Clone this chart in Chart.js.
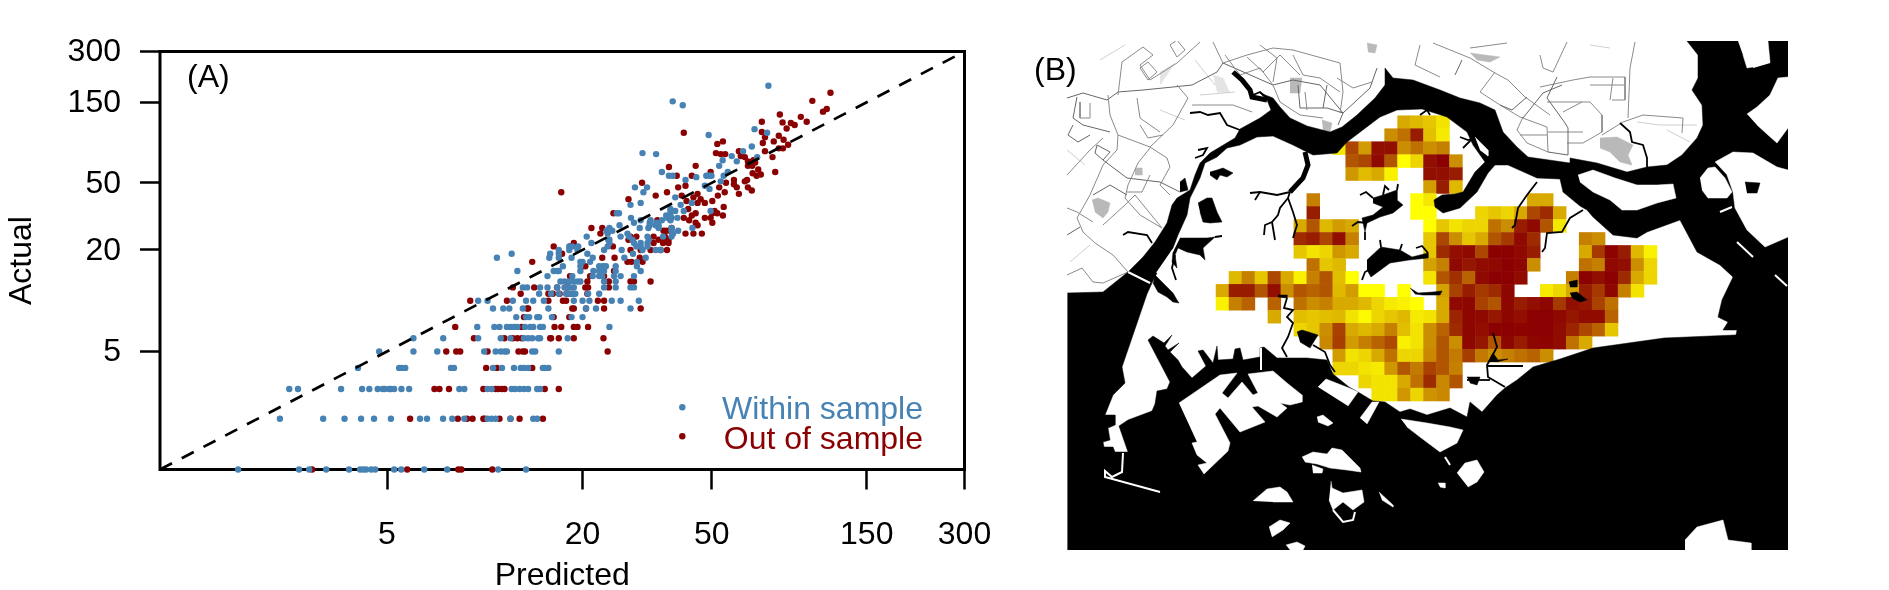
<!DOCTYPE html>
<html><head><meta charset="utf-8">
<style>html,body{margin:0;padding:0;background:#fff;width:1889px;height:590px;overflow:hidden}
canvas{position:absolute;top:0}#a{left:0}#b{left:1000px}</style>
<script src="https://cdn.jsdelivr.net/npm/chart.js@4/dist/chart.umd.js"></script>
</head><body>
<div style="position:absolute;left:0;top:0;width:1000px;height:590px"><canvas id="a" width="1000" height="590"></canvas></div>
<div style="position:absolute;left:1000px;top:0;width:889px;height:590px"><canvas id="b" width="889" height="590" style="left:0"></canvas></div>
<script>
const FONT='"Liberation Sans", Arial, sans-serif';
const tickValues=[5,20,50,150,300];
const seriesNames=['Within sample','Out of sample'];
// [actual, [predicted...]]
const withinSample=[
[1,[1.74,2.68,2.88,3.25,3.82,4.13,4.22,4.31,4.47,4.60,5.26,5.53,6.51,7.66,11.0,13.4]],
[2,[2.34,3.18,3.70,4.16,4.56,5.14,6.32,6.64,7.44,7.94,8.65,10.2,10.5,10.8,12.0,14.1,14.5]],
[3,[2.50,2.66,3.61,4.19,4.41,4.68,4.85,4.92,5.08,5.14,5.26,5.54,5.85,8.35,8.65,10.2,10.5,12.1,12.4,12.8,13.2,13.6,14.5,14.8]],
[4,[4.07,5.45,5.54,5.69,7.87,8.04,10.6,11.3,12.3,12.9,13.2,13.6,15.1,15.3,15.7]],
[5,[4.73,6.03,7.14,9.96,10.8,11.2,11.5,11.7,14.0,14.3,16.9]],
[6,[6.03,7.45,9.54,11.2,12.0,13.2,13.6,14.0,14.6,14.8,18.0]],
[7,[9.48,10.7,11.1,11.7,12.0,12.3,12.6,13.3,13.8,14.1,14.8,15.1,24.2]],
[8,[12.5,13.4,13.7,14.5,14.7,16.1,18.5,20.0]],
[9,[10.6,11.4,11.9,13.1,15.7,20.5,22.0,28.1]],
[10,[9.54,10.2,12.2,13.4,14.1,15.2,18.8,20.0,21.0,24.6,26.2,29.8]],
[11,[14.7,16.0,16.9,17.8,18.2,18.6,19.0,20.8,22.5]],
[12,[13.1,13.5,14.8,15.6,16.7,17.6,18.2,18.8,23.3,25.3,28.1,28.8]],
[13,[17.1,17.6,18.2,18.8,19.3,19.7,23.3,25.3]],
[14,[15.6,18.6,21.5,22.5,23.0,25.0,26.2,28.8]],
[15,[12.6,16.3,16.7,16.9,19.7,21.6,22.5,23.3,25.3,30.2]],
[16,[17.4,19.7,22.5,23.1,23.6,25.3,29.4]],
[17,[19.7,20.0,21.1,29.4]],
[18,[10.9,15.8,16.9,18.5,21.5,26.9,31.3]],
[19,[12.1,15.9,16.9,20.7,28.6]],
[20,[16.9,18.2,19.3,23.3,26.4,30.6,33.6,34.8]],
[21,[18.2,18.6,19.4,23.9,29.3,30.2,31.7]],
[22,[21.3,24.2,28.8,30.2,31.7]],
[23,[24.0,24.2,28.5,32.0]],
[24,[20.6,26.2,27.8,31.7,35.4,37.6]],
[25,[23.9,27.5,38.0]],
[26,[23.7,24.7,37.6,39.4]],
[27,[24.2,30.0,31.9,34.3,37.6,43.6]],
[28,[26.0,32.2,33.6,34.3]],
[29,[28.8,32.2,33.8]],
[30,[30.2,32.4,35.1,37.3]],
[31,[28.2,36.5,37.6,39.2]],
[32,[36.2,37.3]],
[33,[25.5,25.9]],
[34,[37.3,38.6,41.0,49.6]],
[35,[37.3]],
[37,[28.1,40.1]],
[38,[30.2,43.4]],
[41,[38.6]],
[44,[30.8]],
[46,[49.2]],
[47,[29.0,31.6]],
[48,[47.6]],
[51,[53.3]],
[52,[41.5]],
[54,[44.8]],
[55,[36.9,37.9,48.1,49.2,49.9,54.4]],
[58,[35.1,56.0]],
[63,[52.7]],
[67,[59.7]],
[68,[54.0]],
[71,[69.0]],
[72,[57.6]],
[74,[33.7]],
[75,[30.6]],
[77,[62.4]],
[82,[66.4]],
[96,[48.9]],
[99,[74.0]],
[104,[67.7]],
[144,[40.7]],
[152,[37.9]],
[188,[74.7]]
];
const outOfSample=[
[1,[2.94,5.77,8.29,8.47,10.55]],
[2,[5.89,8.26,8.82,9.17,9.90,10.0,11.1,12.0,12.8,15.1]],
[3,[7.00,7.25,7.76,9.90,10.8,11.0,11.3,11.5,15.3,16.9]],
[4,[10.1,10.9,14.0]],
[5,[7.61,8.17,8.40,10.2,12.7,13.1,13.3,23.9]],
[6,[9.26,11.5,12.2,12.6,13.0,15.9,16.0,16.9,18.8,23.2]],
[7,[8.11,13.0,16.4,17.2,18.8,19.3,20.8]],
[8,[13.2,16.3,18.2]],
[9,[13.5,13.6,18.6,18.8,20.5,23.3,30.2]],
[10,[9.02,11.7,15.7,17.4,17.8,22.3,23.3]],
[11,[12.9,15.7,16.2,17.0,18.0,18.6,20.7]],
[12,[12.2,14.2,16.7,17.8,20.4,20.8,24.1]],
[13,[18.2,20.7,24.1,28.1,28.8,32.4]],
[14,[18.3,21.1,23.3]],
[15,[25.0]],
[16,[20.0,20.4]],
[17,[14.0,27.5,28.3,30.6]],
[18,[23.0,25.1,30.0]],
[19,[17.3]],
[20,[28.1,30.2,32.4,34.8,36.4]],
[21,[16.3,18.3,24.8]],
[22,[18.8,33.1,35.4,36.8]],
[23,[27.7,34.3,35.5,36.8]],
[24,[28.1,29.3,33.1,35.9]],
[25,[22.7,41.5,43.9,46.6]],
[26,[35.5,36.2,37.3]],
[27,[21.3,23.0,37.6]],
[28,[45.2]],
[29,[44.6,50.2]],
[30,[34.0,42.6]],
[31,[41.0,47.6,49.6]],
[32,[43.4,54.1]],
[33,[24.9,44.6,50.2,52.0]],
[34,[51.0]],
[35,[42.3]],
[36,[54.4]],
[38,[45.2,47.6]],
[39,[41.8,50.2]],
[40,[27.7,46.2]],
[41,[43.9]],
[42,[33.6,40.4,52.2]],
[43,[45.2,60.6]],
[44,[17.2,36.4,54.8]],
[45,[66.4]],
[47,[39.4,52.7,59.7,64.6]],
[48,[41.5]],
[49,[58.5]],
[50,[30.5,55.3]],
[51,[63.2]],
[52,[58.5,64.2]],
[55,[39.0,43.4,68.7]],
[56,[70.8]],
[57,[66.8]],
[58,[49.6,78.4]],
[60,[69.5]],
[62,[36.9]],
[63,[44.6,64.6,66.6]],
[66,[65.9,68.0]],
[67,[64.6]],
[68,[67.2]],
[71,[63.2,76.9]],
[72,[61.4]],
[74,[53.3,55.0]],
[75,[51.5]],
[77,[60.6,72.9]],
[80,[80.4,82.8]],
[84,[85.9]],
[85,[52.0]],
[86,[71.8]],
[88,[54.1,77.6]],
[90,[83.2]],
[93,[72.9]],
[95,[80.4]],
[99,[41.0]],
[100,[71.3]],
[105,[85.0]],
[110,[90.0]],
[113,[87.6]],
[114,[82.6]],
[115,[71.3,98.0]],
[123,[94.0]],
[127,[81.0]],
[132,[110.0]],
[137,[113.0]],
[153,[102.0]],
[171,[116.0]]
];
const identityLine=[1,300];

// Panel B: intensity grid (0 = yellow, 9 = dark red), [first column, values...]
const heatRows=[
[14,3,2.5,2,1],
[13,4,5,8,2.2,0.7],
[9,0.8,6.5,3.5,8.5,8.5,4,5,4,4.5],
[10,6,6.5,8.7,6,0,1.5,8.5,9,4],
[10,3.7,2.4,3,0.5,null,null,8.5,8.5,8],
[16,3.4,8,2.5],
[7,4.5,null,null,null,null,null,null,null,0,0.8,null,null,null,null,null,null,null,3,3],
[7,8,null,null,null,null,null,null,null,0,0,null,null,null,1.5,2,1.5,3,6.5,7.5,3],
[6,3,6,2.5,3.5,3,null,null,null,null,null,0,2,1,1.5,1.5,5,4,8,8.7,6,0.8],
[6,7.5,8,6.5,8.5,4.5,null,null,null,null,null,2,6.5,4,2,3,6,7,8.7,7.5,null,null,null,4.5,4],
[6,2,1,1.5,3.7,3,null,null,null,null,null,2,7.5,8.5,8.7,6.5,9,9,8.7,8,null,null,null,3,7,8.9,8,2.5,0.5],
[7,5,2,2.5,null,null,null,null,null,null,3.3,4.5,8.7,8.2,8.6,8.7,9,8.8,4,null,null,null,5,4.5,8.7,8.5,4,1.5],
[1,2.5,4.5,2,6.5,3,0.5,4.5,6,2.3,0,null,null,null,null,null,1,6,7.3,5.5,8.7,9,9,8.6,null,null,null,4.5,9,8.5,9,7.5,3,1.5],
[0,3,8,8,6,8.5,4,6,5.5,6,2.5,3.5,0,0,null,0,null,null,3.3,6.7,8,7,7.5,8.8,null,null,0.7,1.5,3,8,7,8.8,4.5,1],
[0,0.5,4.5,5.5,null,5.5,null,5,4,4.5,3,3,2.5,1.5,0.7,0.5,0,null,3,8.7,8.8,6.7,6,8.8,8,8.5,8.8,7,8.5,8.2,6.7,5],
[4,3,null,2.3,2,2.3,2.5,1,0.2,1.5,2,2.5,0.7,1,3,7.7,8.8,8.7,8.2,8.8,8.5,9,9,8.7,8.2,8.6,8.6,5.5],
[6,1.5,2,4,6.7,3,2.5,3,4.5,2.3,1,4,5.5,7.5,8.8,8.5,9,9,8.9,9,9,8.6,7.7,6.5,5.5,2],
[8,4.2,6.8,3.5,4.6,5.5,6.4,0.5,1,4,6,4,8.8,8.2,6,8.8,8,8.8,8.9,8.6,5,3],
[9,3.5,1,1.5,3,5,1.5,1.5,4.2,6,4.7,6.8,4.7,4,4.5,5,5.5,4],
[9,1.5,1.5,1,0.7,3.7,6,4.7,6.7,6,4.5],
[11,1.5,1,1,3,5,7.5,4.2,6],
[12,1,1,3.7,1.5,3.8,4.2]
];
// Panel B: map geometry, in map units (east, south)
const mapEast=[1067,1788], mapSouth=[41,550];
const gridOrigin=[1216,115.7], gridCell=12.97;

const straitWater=[[1128,272],[1143,257],[1155,242],[1167,223],[1172,205],[1177,198],[1190,190],[1195,175],[1200,163],[1210,153],[1220,147],[1235,138],[1240,129],[1260,118],[1271,110],[1267,100],[1260,93],[1273,98],[1280,107],[1290,118],[1307,126],[1330,132],[1342,127],[1357,115],[1375,98],[1385,85],[1385,68],[1393,78],[1413,80],[1440,90],[1460,98],[1480,103],[1495,110],[1503,132],[1517,147],[1528,157],[1570,163],[1570,158],[1597,163],[1627,172],[1647,167],[1667,165],[1682,155],[1697,138],[1703,125],[1702,105],[1692,90],[1698,78],[1698,55],[1687,41],[1788,41],[1788,340],[1735,340],[1737,330],[1723,330],[1728,322],[1718,317],[1722,300],[1733,277],[1720,265],[1697,252],[1680,220],[1647,232],[1637,238],[1613,235],[1593,217],[1587,210],[1580,206],[1563,192],[1560,179],[1537,178],[1508,165],[1495,165],[1488,173],[1477,192],[1460,208],[1443,213],[1435,207],[1434,200],[1442,195],[1455,194],[1463,192],[1475,172],[1485,162],[1473,145],[1467,132],[1447,117],[1422,109],[1397,110],[1380,117],[1347,142],[1337,153],[1313,155],[1307,152],[1293,145],[1273,136],[1257,137],[1240,145],[1227,148],[1217,157],[1205,163],[1200,178],[1190,198],[1187,215],[1178,235],[1173,248],[1157,273],[1152,283]];
const southSea=[[1067,293],[1103,292],[1128,272],[1152,283],[1147,294],[1122,367],[1125,383],[1113,395],[1105,415],[1115,415],[1115,425],[1108,428],[1110,440],[1103,442],[1104,447],[1113,447],[1115,452],[1128,452],[1119,426],[1128,420],[1152,411],[1155,404],[1157,391],[1167,389],[1170,382],[1148,340],[1153,336],[1164,343],[1172,335],[1165,346],[1168,350],[1179,343],[1170,352],[1178,360],[1182,367],[1192,378],[1206,366],[1198,351],[1203,350],[1213,363],[1217,346],[1218,360],[1233,359],[1235,349],[1240,348],[1243,360],[1260,357],[1260,348],[1264,347],[1277,358],[1287,358],[1307,358],[1327,360],[1333,374],[1349,387],[1358,392],[1373,401],[1385,402],[1400,412],[1410,409],[1427,415],[1450,408],[1467,417],[1470,402],[1482,412],[1497,395],[1505,388],[1517,380],[1533,367],[1560,359],[1593,348],[1664,338],[1735,335],[1788,335],[1788,550],[1067,550]];
const lakes=[
[[1210,172],[1217,170],[1223,168],[1233,173],[1227,177],[1220,175],[1217,180],[1210,175]],
[[1198,203],[1207,198],[1212,198],[1217,212],[1222,222],[1210,223],[1203,222],[1200,212]],
[[1180,238],[1207,238],[1215,237],[1203,248],[1205,260],[1200,255],[1187,252],[1178,248],[1175,255],[1177,268],[1172,262],[1173,252]],
[[1155,275],[1163,283],[1173,293],[1177,300],[1179,303],[1173,302],[1167,297],[1158,292],[1153,283]],
[[1373,198],[1383,195],[1397,190],[1397,200],[1403,205],[1393,213],[1380,217],[1367,223],[1365,232],[1362,218],[1373,215],[1383,207],[1373,203]],
[[1367,260],[1381,247],[1400,250],[1412,257],[1428,253],[1428,258],[1409,260],[1390,263],[1371,277],[1367,270]],
[[1410,288],[1418,293],[1433,292],[1442,291],[1440,295],[1423,295],[1415,294]],
[[1297,332],[1302,330],[1318,335],[1313,343],[1310,348],[1300,342]],
[[1278,295],[1287,295],[1287,298],[1278,297]],
[[1488,362],[1493,353],[1498,360],[1508,359],[1497,362]],
[[1467,377],[1480,377],[1477,385],[1470,383]],
[[1569,282],[1577,280],[1577,287],[1570,287]],
[[1570,293],[1577,292],[1587,300],[1580,302],[1572,298]],
[[1180,182],[1185,178],[1188,190],[1180,192]]
];
const islands=[
[[1179,403],[1220,375],[1237,373],[1222,393],[1228,398],[1242,382],[1253,395],[1258,393],[1248,374],[1273,371],[1287,383],[1302,395],[1302,402],[1290,405],[1280,403],[1287,408],[1277,417],[1258,406],[1252,407],[1265,422],[1240,432],[1220,408],[1215,414],[1230,443],[1228,451],[1204,474],[1198,465],[1207,463],[1197,455],[1192,443],[1197,442]],
[[1318,387],[1326,379],[1349,388],[1358,392],[1348,406]],
[[1360,418],[1372,402],[1379,402],[1367,424]],
[[1317,417],[1323,415],[1333,423],[1328,426],[1318,422]],
[[1401,419],[1427,423],[1450,427],[1463,430],[1457,443],[1440,452],[1420,437],[1407,427]],
[[1302,457],[1313,452],[1327,454],[1332,448],[1342,450],[1360,468],[1361,472],[1347,470],[1330,468],[1317,464],[1305,462]],
[[1312,465],[1323,469],[1322,473],[1313,473]],
[[1253,501],[1267,489],[1280,487],[1287,492],[1293,502],[1273,502]],
[[1331,481],[1332,488],[1343,493],[1362,490],[1364,502],[1353,510],[1343,502],[1333,510],[1329,500]],
[[1379,492],[1393,505],[1393,507],[1382,500]],
[[1269,527],[1280,520],[1290,523],[1283,530],[1272,537]],
[[1286,545],[1297,542],[1305,546],[1303,550],[1290,550]],
[[1457,473],[1465,463],[1477,460],[1484,472],[1477,482],[1468,487]],
[[1438,483],[1445,483],[1445,488],[1440,487]],
[[1685,540],[1697,527],[1723,520],[1728,540],[1751,543],[1751,550],[1685,550]],
[[1578,175],[1593,170],[1615,178],[1637,185],[1657,185],[1673,184],[1676,198],[1657,203],[1637,210],[1622,210],[1610,200],[1593,192],[1580,182]],
[[1475,137],[1488,150],[1488,156],[1480,150]],
[[1700,178],[1708,168],[1715,167],[1725,178],[1732,192],[1727,198],[1708,198],[1702,190]],
[[1715,162],[1733,152],[1753,153],[1777,167],[1788,170],[1788,237],[1765,247],[1747,230],[1735,208],[1733,192],[1727,175]],
[[1747,114],[1757,107],[1770,95],[1778,78],[1788,77],[1788,128],[1777,143],[1768,135],[1757,125]],
[[1738,41],[1768,41],[1770,62],[1753,67],[1747,68],[1743,55]]
];
const islandSpecks=[
[[1745,182],[1760,183],[1757,193],[1747,193]]
];
const whiteLinks=[
[[1128,272],[1150,283]],
[[1157,273],[1173,250]],
[[1123,453],[1122,472],[1112,477],[1105,471],[1105,477],[1160,492]],
[[1261,348],[1261,370]],
[[1737,242],[1753,257]],
[[1775,275],[1787,286]],
[[1753,67],[1770,62]],
[[1333,510],[1343,522],[1353,520],[1355,512]],
[[1445,457],[1450,465]],
[[1720,212],[1732,207]]
];
const riversWide=[
[[1305,152],[1308,165],[1303,178],[1290,192]],
[[1233,72],[1242,80],[1250,90],[1252,97],[1267,100]]
];
const riversThin=[
[[1290,192],[1277,195],[1260,192],[1250,193]],
[[1260,192],[1255,200]],
[[1290,192],[1288,198],[1293,212],[1297,225],[1293,238]],
[[1288,198],[1280,208],[1278,215],[1272,222],[1265,225],[1264,235]],
[[1272,222],[1275,240]],
[[1287,298],[1284,308],[1293,310],[1287,317],[1293,323],[1288,337],[1282,348],[1287,357]],
[[1313,345],[1325,352],[1330,365],[1335,372]],
[[1493,333],[1497,347],[1490,360],[1487,365],[1488,377],[1505,387]],
[[1488,366],[1523,366]],
[[1537,182],[1527,195],[1518,208],[1515,225],[1512,228]],
[[1583,210],[1570,218],[1562,232],[1547,233],[1545,248],[1542,252]],
[[1473,138],[1463,148]],
[[1460,137],[1468,140],[1475,138]],
[[1420,115],[1427,110],[1430,115]],
[[1620,123],[1630,132],[1632,142],[1643,145],[1647,158],[1647,167]],
[[1190,113],[1200,112],[1208,115],[1220,113],[1227,125],[1240,130]],
[[1253,95],[1260,92],[1267,98]],
[[1198,150],[1207,148],[1203,155],[1195,158]],
[[1123,235],[1128,232],[1147,235],[1152,243]],
[[1467,380],[1490,380]],
[[1373,198],[1366,192],[1360,195]],
[[1383,195],[1385,186],[1389,190]],
[[1397,190],[1398,184]],
[[1367,223],[1358,222],[1352,226]],
[[1365,232],[1365,240]],
[[1372,268],[1365,272],[1362,280]],
[[1381,247],[1380,240]],
[[1400,250],[1402,244]],
[[1428,253],[1422,246],[1416,248]],
[[1175,255],[1172,268],[1176,280]],
[[1215,237],[1222,236]]
];
const greyPatches=[
[[1092,200],[1098,198],[1110,203],[1108,212],[1103,218],[1095,212]],
[[1135,168],[1142,168],[1142,175],[1135,175]],
[[1290,78],[1302,78],[1300,93],[1290,93]],
[[1322,120],[1332,123],[1330,132],[1323,130]],
[[1367,43],[1377,45],[1375,53],[1368,52]],
[[1470,53],[1500,57],[1490,62],[1477,60]],
[[1600,138],[1617,137],[1633,145],[1628,155],[1632,165],[1620,162],[1610,152],[1600,148]]
];
const palePatches=[
[[1160,72],[1175,63],[1160,85]],
[[1213,75],[1223,78],[1230,93],[1217,92]]
];
const roads=[
[[1067,98],[1083,93],[1107,100],[1118,92],[1143,90],[1173,87],[1192,85],[1217,72],[1223,63],[1273,85],[1293,80],[1320,85],[1343,113],[1338,125]],
[[1108,95],[1110,115],[1118,135],[1117,150],[1103,165],[1090,195],[1077,218],[1083,232],[1095,243],[1113,255],[1128,272]],
[[1118,135],[1150,147],[1167,158],[1170,167],[1160,185],[1170,195]],
[[1150,147],[1173,125],[1188,98],[1177,85]],
[[1103,160],[1127,178],[1160,182],[1180,192]],
[[1150,148],[1138,163],[1128,185],[1125,198],[1140,215],[1162,228]],
[[1140,65],[1153,55],[1143,47],[1122,62],[1118,95]],
[[1140,65],[1150,80],[1177,63],[1200,42]],
[[1077,97],[1073,118],[1083,125],[1110,132]],
[[1192,105],[1233,105],[1252,112]],
[[1213,42],[1223,63],[1247,55],[1273,48],[1293,50],[1340,63],[1343,92],[1340,113]],
[[1273,85],[1280,102],[1300,115],[1323,118]],
[[1298,85],[1300,108],[1327,108],[1343,113],[1370,88],[1377,68]],
[[1247,57],[1263,72],[1280,55],[1300,75]],
[[1067,175],[1090,150],[1103,138]],
[[1067,275],[1082,268],[1093,282],[1103,283],[1128,272]],
[[1080,227],[1067,235]],
[[1103,225],[1125,205],[1135,195],[1162,228]],
[[1433,43],[1470,58],[1495,73],[1508,80],[1525,97],[1550,115]],
[[1495,72],[1480,92],[1500,105],[1520,117],[1547,127],[1548,152],[1527,143],[1517,130],[1523,117]],
[[1455,75],[1462,60]],
[[1540,87],[1573,80],[1590,77],[1625,77],[1625,100],[1612,100]],
[[1547,102],[1590,102],[1602,115],[1602,132],[1583,143],[1567,143]],
[[1548,132],[1583,132]],
[[1548,152],[1568,155],[1568,128],[1565,123],[1547,98],[1557,77]],
[[1602,135],[1623,122],[1643,115],[1683,118],[1682,133]],
[[1635,42],[1630,68],[1628,118]],
[[1590,85],[1625,85]],
[[1527,97],[1512,110],[1500,105]],
[[1540,55],[1543,68],[1553,72],[1567,42]],
[[1470,48],[1507,43]],
[[1080,102],[1080,118],[1090,118],[1090,103]],
[[1097,145],[1110,152],[1103,160],[1095,153],[1097,145]],
[[1140,68],[1148,62],[1157,72],[1148,80],[1140,68]],
[[1170,45],[1177,40],[1185,50],[1177,57],[1170,45]],
[[1127,192],[1142,192],[1150,175]],
[[1073,125],[1068,135],[1078,142],[1090,135]],
[[1067,208],[1077,212],[1093,222]],
[[1140,125],[1148,138],[1163,135]],
[[1137,98],[1140,118],[1160,132]],
[[1093,195],[1110,185],[1127,195]],
[[1293,55],[1303,75],[1320,78],[1340,92]],
[[1225,55],[1240,75],[1260,68],[1273,85]],
[[1305,92],[1307,110]],
[[1327,85],[1323,108]],
[[1337,78],[1353,88],[1372,82]],
[[1260,45],[1277,58],[1273,82]],
[[1420,45],[1415,65],[1440,77]],
[[1523,118],[1543,93],[1562,85]],
[[1520,135],[1547,135]],
[[1563,112],[1582,102]],
[[1613,78],[1610,100]]
];
const paleRoads=[
[[1637,122],[1660,125],[1697,125]],
[[1667,130],[1690,142]],
[[1590,45],[1610,48]],
[[1735,215],[1760,225]],
[[1160,110],[1185,120]],
[[1100,60],[1125,45]],
[[1067,150],[1085,165]],
[[1195,60],[1215,85]],
[[1090,245],[1070,262]],
[[1200,95],[1235,92]]
];
const mapEdge=[[1067,293],[1067,550]];

const BLUE='#4682B4', RED='#8B0000';
const expand=rows=>rows.flatMap(([y,xs])=>xs.map(x=>({x,y})));
const pts=a=>a.map(([x,y])=>({x,y}));

const boxPlugin={id:'box',beforeDatasetsDraw(c){
  const {left,right,top,bottom}=c.chartArea,g=c.ctx;
  g.save();g.strokeStyle='#000';g.lineWidth=3;g.strokeRect(left,top,right-left,bottom-top);g.restore();
},afterDraw(c){
  const g=c.ctx,xs=c.scales.x;
  g.save();g.font='32px '+FONT;g.textBaseline='alphabetic';
  g.fillStyle='#000';g.textAlign='left';g.fillText('(A)',xs.getPixelForValue(1)+27,87);
  const rx=923,lx=682.3;
  [[BLUE,seriesNames[0],419.3,407.3],[RED,seriesNames[1],449.3,436.3]].forEach(([col,t,by,my])=>{
    g.fillStyle=col;g.textAlign='right';g.fillText(t,rx,by);
    g.beginPath();g.arc(lx,my,3.2,0,Math.PI*2);g.fill();
  });
  g.restore();
}};
const logAxis=(title,titlePad,extra)=>Object.assign({type:'logarithmic',min:1,max:300,
  afterBuildTicks:s=>{s.ticks=tickValues.map(v=>({value:v}));},
  border:{display:false},
  grid:{drawOnChartArea:false,drawTicks:true,tickLength:20,tickWidth:2.5,tickColor:'#000',color:'#000'},
  title:{display:true,text:title,color:'#000',font:{family:FONT,size:32},padding:titlePad}},extra);
new Chart(document.getElementById('a'),{
  type:'scatter',
  data:{datasets:[
    {label:seriesNames[1],data:expand(outOfSample),order:3,backgroundColor:RED,borderColor:RED,pointRadius:3.2,pointBorderWidth:0,clip:false},
    {label:seriesNames[0],data:expand(withinSample),order:2,backgroundColor:BLUE,borderColor:BLUE,pointRadius:3.2,pointBorderWidth:0,clip:false},
    {label:'1:1',data:identityLine.map(v=>({x:v,y:v})),order:1,showLine:true,pointRadius:0,borderColor:'#000',borderWidth:2.7,borderDash:[13.5,11],clip:false}
  ]},
  options:{responsive:false,animation:false,events:[],
    layout:{padding:{left:0,top:51.5,right:35.5,bottom:0}},
    plugins:{legend:{display:false},tooltip:{enabled:false}},
    scales:{
      x:logAxis('Predicted',{top:0,bottom:-5},{afterFit:s=>{s.height=120.5;s.paddingLeft=0;s.paddingRight=0;},
        ticks:{autoSkip:false,maxRotation:0,padding:26,color:'#000',font:{family:FONT,size:32},callback:v=>String(v)}}),
      y:logAxis('Actual',{top:3,bottom:0},{afterFit:s=>{s.width=160;s.paddingTop=0;s.paddingBottom=0;},
        ticks:{autoSkip:false,padding:19,labelOffset:1,color:'#000',font:{family:FONT,size:32},callback:v=>String(v)}})
    }
  },
  plugins:[boxPlugin]
});
// panel B
const heatPoints=[],heatColors=[];
heatRows.forEach((r,ri)=>r.slice(1).forEach((v,i)=>{
  if(v===null)return;
  heatPoints.push({x:gridOrigin[0]+(r[0]+i+.5)*gridCell,y:gridOrigin[1]+(ri+.5)*gridCell});
  const t=v/9;
  heatColors.push(`rgb(${Math.round(255+(139-255)*t)},${Math.round(255*(1-t))},0)`);
}));
let ord=1000;const ds=[];
const shape=(a,col)=>ds.push({label:'map',data:pts(a),order:ord--,showLine:true,fill:'shape',backgroundColor:col,borderColor:col,borderWidth:.5,pointRadius:0,tension:0});
const path=(a,col,w)=>ds.push({label:'map',data:pts(a),order:ord--,showLine:true,fill:false,borderColor:col,borderWidth:w,pointRadius:0,tension:0});
palePatches.forEach(a=>shape(a,'#E4E4E4'));
greyPatches.forEach(a=>shape(a,'#B9B9B9'));
paleRoads.forEach(a=>path(a,'#CFCFCF',1));
roads.forEach((a,i)=>path(a,i%4==0?'#666':'#8A8A8A',1));
ds.push({label:'intensity',data:heatPoints,order:ord--,
  pointStyle:'rect',pointBorderWidth:0,backgroundColor:heatColors,borderColor:heatColors,
  pointRadius:c=>(c.chart.scales.x.getPixelForValue(gridCell)-c.chart.scales.x.getPixelForValue(0))/Math.SQRT2+.35});
shape(straitWater,'#000');shape(southSea,'#000');
lakes.forEach(a=>shape(a,'#000'));
islands.forEach(a=>shape(a,'#fff'));
islandSpecks.forEach(a=>shape(a,'#000'));
riversWide.forEach(a=>path(a,'#000',5));
riversThin.forEach(a=>path(a,'#000',1.8));
whiteLinks.forEach(a=>path(a,'#fff',2));
path(mapEdge,'#777',1);
new Chart(document.getElementById('b'),{
  type:'scatter',
  data:{datasets:ds},
  options:{responsive:false,animation:false,events:[],
    layout:{padding:{left:67,right:101,top:41,bottom:40}},
    plugins:{legend:{display:false},tooltip:{enabled:false}},
    scales:{
      x:{type:'linear',display:false,min:mapEast[0],max:mapEast[1]},
      y:{type:'linear',display:false,reverse:true,min:mapSouth[0],max:mapSouth[1]}
    }
  },
  plugins:[{id:'tag',afterDraw(c){const g=c.ctx;g.save();g.font='32px '+FONT;g.fillStyle='#000';g.textBaseline='alphabetic';g.fillText('(B)',34,80);g.restore();}}]
});
</script>
</body></html>
